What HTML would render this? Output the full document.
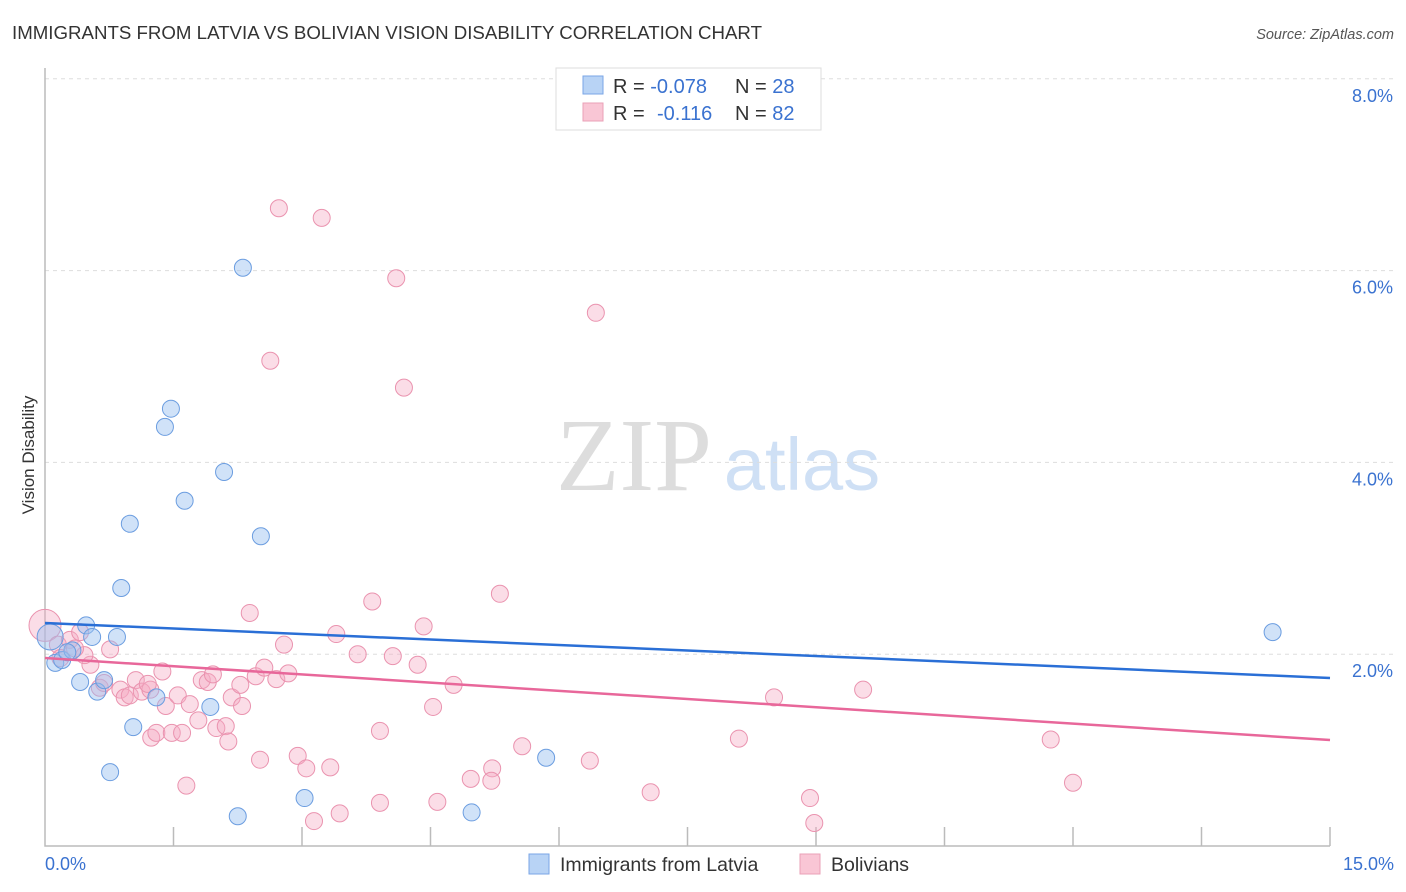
<!DOCTYPE html>
<html><head><meta charset="utf-8"><style>
body{margin:0;background:#fff;font-family:"Liberation Sans",sans-serif}
svg{display:block}
</style></head><body>
<svg id="c" width="1406" height="892">
<text x="12" y="39" font-size="18" fill="#333" textLength="750" lengthAdjust="spacingAndGlyphs">IMMIGRANTS FROM LATVIA VS BOLIVIAN VISION DISABILITY CORRELATION CHART</text>
<text x="1394" y="39" font-size="14.5" fill="#555" font-style="italic" text-anchor="end">Source: ZipAtlas.com</text>
<text x="634" y="490" font-size="104" fill="#ddd" font-family="Liberation Serif,serif" text-anchor="middle">ZIP</text>
<text x="802" y="490" font-size="74" fill="#cfe0f5" text-anchor="middle">atlas</text>
<g id="grid"></g><g id="axes"></g><g id="pts"></g><g id="trend"></g>
<text transform="translate(34,455) rotate(-90)" font-size="17" fill="#333" text-anchor="middle">Vision Disability</text>
<g>
<rect x="556" y="68" width="265" height="62" fill="#fff" stroke="#ddd"/>
<rect x="583" y="76" width="20" height="18" fill="#b8d3f5" stroke="#7aa6e6"/>
<rect x="583" y="103" width="20" height="18" fill="#f9c6d5" stroke="#eaa0b7"/>
<text x="613" y="93" font-size="20" fill="#333">R = <tspan fill="#3a72d0">-0.078</tspan><tspan x="735">N = </tspan><tspan fill="#3a72d0">28</tspan></text>
<text x="613" y="120" font-size="20" fill="#333">R = <tspan x="657" fill="#3a72d0">-0.116</tspan><tspan x="735">N = </tspan><tspan fill="#3a72d0">82</tspan></text>
</g>
<g>
<rect x="529" y="854" width="20" height="20" fill="#b8d3f5" stroke="#7aa6e6"/>
<text x="560" y="871" font-size="19.5" fill="#333">Immigrants from Latvia</text>
<rect x="800" y="854" width="20" height="20" fill="#f9c6d5" stroke="#eaa0b7"/>
<text x="831" y="871" font-size="19.5" fill="#333">Bolivians</text>
</g>
</svg>
<script>
const latviaX=[0.06,0.12,0.20,0.32,0.41,0.48,0.55,0.61,0.69,0.76,0.84,0.89,0.99,1.03,1.30,1.40,1.47,1.63,1.93,2.09,2.25,2.31,2.52,3.03,4.98,5.85,14.33,0.26];
const latviaY=[2.18,1.91,1.94,2.04,1.71,2.30,2.18,1.61,1.73,0.77,2.18,2.69,3.36,1.24,1.55,4.37,4.56,3.60,1.45,3.90,0.31,6.03,3.23,0.50,0.35,0.92,2.23,2.02];
const bolX=[0,0.15,0.29,0.41,0.53,0.46,0.64,0.76,0.88,0.93,0.99,1.06,1.13,1.23,1.20,1.24,1.30,1.37,1.41,1.48,1.55,1.60,1.65,1.69,1.79,1.83,1.90,1.96,2.00,2.11,2.14,2.18,2.28,2.30,2.39,2.46,2.51,2.56,2.63,2.70,2.73,2.79,2.84,2.95,3.05,3.14,3.23,3.33,3.40,3.44,3.65,3.82,3.91,3.91,4.06,4.10,4.19,4.35,4.42,4.53,4.58,4.77,4.97,5.22,5.21,5.31,5.57,6.36,6.43,7.07,8.10,8.51,8.93,8.98,9.55,11.74,12.00,0.18,0.35,0.69];
const bolY=[2.30,2.10,2.15,2.23,1.89,1.99,1.65,2.05,1.63,1.55,1.57,1.73,1.61,1.63,1.69,1.13,1.18,1.82,1.46,1.18,1.57,1.18,0.63,1.48,1.31,1.73,1.71,1.79,1.23,1.25,1.09,1.55,1.68,1.46,2.43,1.77,0.90,1.86,5.06,1.74,6.65,2.10,1.80,0.94,0.81,0.26,6.55,0.82,2.21,0.34,2.00,2.55,1.20,0.45,1.98,5.92,4.78,1.89,2.29,1.45,0.46,1.68,0.70,0.81,0.68,2.63,1.04,0.89,5.56,0.56,1.12,1.55,0.50,0.24,1.63,1.11,0.66,1.96,2.06,1.70];
const latviaTrend=[2.325,1.752];
const bolTrend=[1.96,1.105];
const yTicks=[2,4,6,8];
const xTicks=[0,1.5,3,4.5,6,7.5,9,10.5,12,13.5,15];
const X=v=>45+v*(1285/15), Y=v=>846-v*95.9;
const NS='http://www.w3.org/2000/svg';
function mk(p,t,a){const e=document.createElementNS(NS,t);for(const k in a)e.setAttribute(k,a[k]);document.getElementById(p).appendChild(e);return e;}
yTicks.forEach(t=>{
 const l=mk('grid','line',{x1:45,x2:1394,y1:Y(t),y2:Y(t),stroke:'#ddd','stroke-dasharray':'4,4'});
 
 
 const tx=mk('grid','text',{x:1393,y:Y(t)+23,'font-size':18,fill:'#3a72d0','text-anchor':'end'});
 tx.textContent=t.toFixed(1)+'%';
 
 
});
const ax=mk('axes','path',{d:'M45 68V846H1330',stroke:'#bbb',fill:'none','stroke-width':1.5});


xTicks.forEach(t=>{if(t===0)return;
 const l=mk('axes','line',{x1:X(t),x2:X(t),y1:827,y2:846,stroke:'#bbb','stroke-width':1.5});
 
 
});
[[0,'start',45],[15,'end',1394]].forEach(([v,a,x])=>{
 const tx=mk('axes','text',{x:x,y:870,'font-size':18,fill:'#3a72d0','text-anchor':a});
 tx.textContent=v.toFixed(1)+'%';
 
 
});
function pts(xs,ys,fill,stroke,name,big){xs.forEach((x,i)=>{
 const c=mk('pts','circle',{cx:X(x),cy:Y(ys[i]),r:(i===0?big:8.5),fill:fill,stroke:stroke,'stroke-width':1});
 
 
});}
pts(bolX,bolY,'rgba(246,170,195,0.4)','#ea93af','bolivian-point',16);
pts(latviaX,latviaY,'rgba(150,190,240,0.45)','#6b9de0','latvia-point',13);
const t1=mk('trend','line',{x1:X(0),y1:Y(latviaTrend[0]),x2:X(15),y2:Y(latviaTrend[1]),stroke:'#2a6fd6','stroke-width':2.5});


const t2=mk('trend','line',{x1:X(0),y1:Y(bolTrend[0]),x2:X(15),y2:Y(bolTrend[1]),stroke:'#e8679a','stroke-width':2.5});


</script>
</body></html>
